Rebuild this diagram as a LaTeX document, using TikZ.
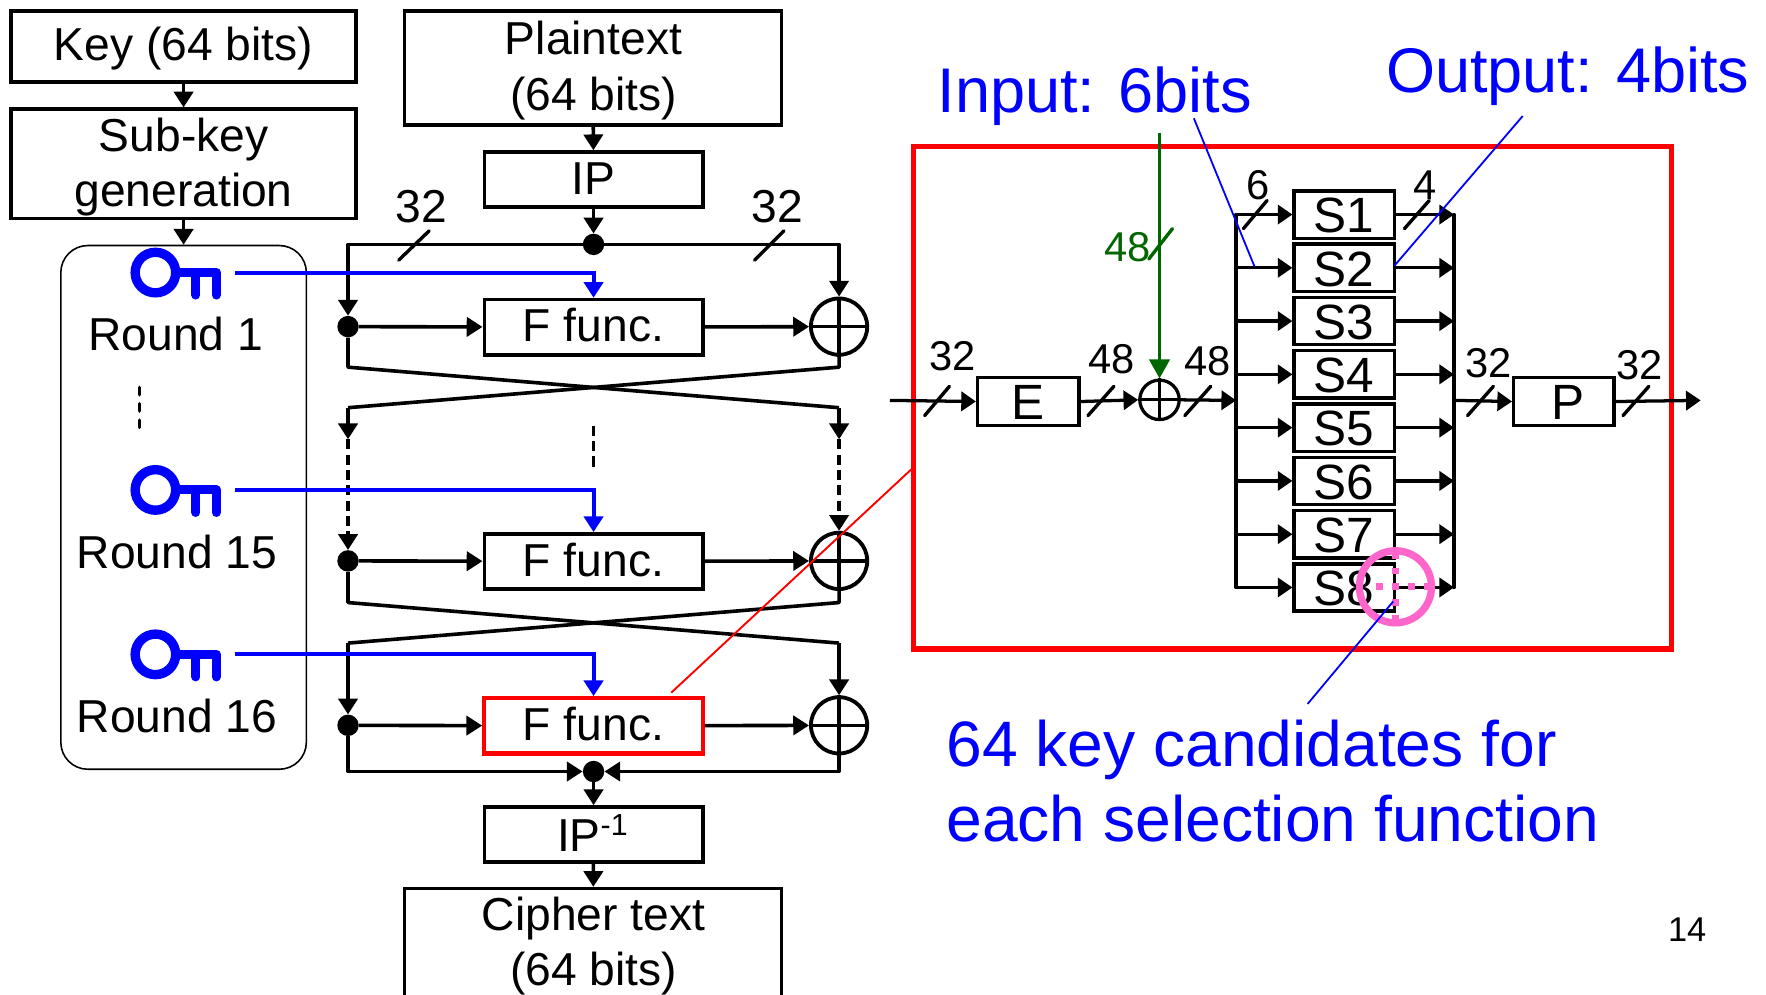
\documentclass[tikz,border=0pt]{standalone}
\usepackage{fontspec}
\setmainfont{Liberation Sans}
\usetikzlibrary{arrows.meta,calc}
\definecolor{pinkc}{HTML}{FF66CC}
\definecolor{greenc}{HTML}{006600}
\tikzset{
  x=1pt,y=-1pt,
  fmain/.style={font=\fontsize{41}{49}\selectfont},
  fbig/.style={font=\fontsize{44}{44}\selectfont},
  boxn/.style={draw=black,line width=3.2pt,fill=none,inner sep=0pt,fmain,align=center,line join=miter},
  sbox/.style={draw=black,line width=3pt,inner sep=0pt,minimum width=89pt,minimum height=42pt},
  ln/.style={line width=3.2pt,line join=round},
  arr/.style={ln,-{Triangle[length=14pt,width=17pt]}},
  parr/.style={line width=2.9pt,line join=round,-{Triangle[length=13pt,width=17pt]}},
  dotn/.style={circle,fill=black,inner sep=0pt,minimum size=19pt},
  xorn/.style={circle,draw=black,line width=3.4pt,inner sep=0pt,minimum size=50pt},
  pxor/.style={circle,draw=black,line width=2.9pt,inner sep=0pt,minimum size=35pt},
  tick/.style={line width=3pt,line cap=round},
  bl/.style={draw=blue,line width=3.6pt},
  blarr/.style={bl,-{Triangle[length=14pt,width=17pt]}},
  thinb/.style={draw=blue,line width=1.6pt},
  lab/.style={fmain,inner sep=0pt},
  nlab/.style={font=\fontsize{37}{37}\selectfont,inner sep=0pt},
  btext/.style={font=\fontsize{57}{67}\selectfont,text=blue,inner sep=0pt,align=left},
  hdtext/.style={font=\fontsize{56}{56}\selectfont,text=blue,inner sep=0pt},
  dsh/.style={dash pattern=on 9pt off 4.6pt},
  ringn/.style={circle,draw=blue,line width=8.3pt,inner sep=0pt,minimum size=36pt},
  txt/.style={lab,align=center},
}
\begin{document}
\begin{tikzpicture}
\useasboundingbox (0,0) rectangle (1568,883);
% left column boxes
\node[boxn,minimum width=306pt,minimum height=63pt] (key) at (163,41.5) {};
\node[txt] (keyt) at (163,43) {Key (64 bits)};
\node[boxn,minimum width=306pt,minimum height=97pt] (sub) at (163,145.5) {};
\node[txt] (subt) at (163,148) {Sub-key\\generation};
\node[draw=black,line width=1.4pt,rounded corners=24pt,minimum width=218pt,minimum height=465pt,inner sep=0pt] (rounds) at (163,450.5) {};
\draw[arr] (key) -- (sub);
\draw[arr] (sub) -- (rounds);
% center boxes
\node[boxn,minimum width=335pt,minimum height=101pt] (plain) at (526.5,60.5) {};
\node[txt,font=\fontsize{41}{50}\selectfont] (plaint) at (527,62.5) {Plaintext\\(64 bits)};
\node[boxn,minimum width=194pt,minimum height=49pt] (ip) at (527,159.5) {};
\node[txt] (ipt) at (527,158.5) {IP};
\node[dotn] (d0) at (527,217) {};
\node[boxn,minimum width=194pt,minimum height=49pt] (f1) at (527,290.5) {};
\node[boxn,minimum width=194pt,minimum height=49pt] (f2) at (527,498.5) {};
\node[boxn,draw=red,line width=3.8pt,minimum width=194pt,minimum height=49pt] (f3) at (527,644.5) {};
\node[txt] (f1t) at (527,289) {F func.};
\node[txt] (f2t) at (527,497) {F func.};
\node[txt] (f3t) at (527,643) {F func.};
\node[xorn] (x1) at (745,290) {};
\node[xorn] (x2) at (745,498) {};
\node[xorn] (x3) at (745,644) {};
\foreach \n in {x1,x2,x3}{
  \draw[ln,line width=3.2pt] (\n.north) -- (\n.south);
  \draw[ln,line width=3.2pt] (\n.west) -- (\n.east);
}
\node[dotn] (l1) at (309,290) {};
\node[dotn] (l2) at (309,498) {};
\node[dotn] (l3) at (309,644) {};
\node[dotn] (d9) at (527,685) {};
\node[boxn,minimum width=194pt,minimum height=49pt] (ipi) at (527,741) {};
\node[txt] (ipit) at (526,739.5) {IP\raisebox{.36em}{\fontsize{27}{27}\selectfont -1}};
\node[boxn,minimum width=335pt,minimum height=111pt] (ciph) at (526.5,844.5) {};
\node[lab,align=center] (ciphtext) at (527,840) {Cipher text\\(64 bits)};
% coordinates
\coordinate (tl) at (309,217);
\coordinate (tr) at (745,217);
\coordinate (a1) at (309,326);
\coordinate (b1) at (745,326);
\coordinate (a1e) at (745,362);
\coordinate (b1e) at (309,362);
\coordinate (a1t) at (745,390);
\coordinate (b1t) at (309,390);
\coordinate (a2) at (309,535);
\coordinate (b2) at (745,535);
\coordinate (a2e) at (745,571);
\coordinate (b2e) at (309,571);
\coordinate (bl) at (309,685);
\coordinate (br) at (745,685);
% connectors
\draw[arr] (plain) -- (ip);
\draw[arr] (ip) -- (d0);
\draw[arr] (d0.west) -- (tl) -- (l1.north);
\draw[arr] (d0.east) -- (tr) -- (x1.north);
\draw[arr] (l1) -- (f1);
\draw[arr] (f1) -- (x1);
\draw[ln] (l1.south) -- (a1) -- (a1e);
\draw[arr] (a1e) -- (a1t);
\draw[ln] (x1.south) -- (b1) -- (b1e);
\draw[arr] (b1e) -- (b1t);
\draw[arr,dsh] (b1t) -- (l2.north);
\draw[arr,dsh] (a1t) -- (x2.north);
\draw[arr] (l2) -- (f2);
\draw[arr] (f2) -- (x2);
\draw[ln] (l2.south) -- (a2) -- (a2e);
\draw[arr] (a2e) -- (x3.north);
\draw[ln] (x2.south) -- (b2) -- (b2e);
\draw[arr] (b2e) -- (l3.north);
\draw[arr] (l3) -- (f3);
\draw[arr] (f3) -- (x3);
\draw[arr] (l3.south) -- (bl) -- (d9.west);
\draw[arr] (x3.south) -- (br) -- (d9.east);
\draw[arr] (d9) -- (ipi);
\draw[arr] (ipi) -- (ciph);
\draw[ln,dsh] (527,378) -- (527,416);
\draw[ln,line cap=round,dash pattern=on 6.5pt off 8pt] (124,344) -- (124,382);
% ticks on main
\node[lab] (t32a) at (374,183) {32};
\node[lab] (t32b) at (690,183) {32};
\draw[tick] (354,231) -- (381,205);
\draw[tick] (670,231) -- (696,205);
% keys
\foreach \nm/\yy in {1/242,2/435,3/581}{
  \node[ringn] (ring\nm) at (138,\yy) {};
  \draw[blue,line width=8pt,line join=round,line cap=round] (ring\nm.east) -- (192,\yy) -- (192,\yy+20);
  \draw[blue,line width=8pt,line cap=round] (174,\yy) -- (174,\yy+20);
  \coordinate (kout\nm) at (209,\yy);
}
\draw[blarr] (kout1) -| (f1.north);
\draw[blarr] (kout2) -| (f2.north);
\draw[blarr] (kout3) -| (f3.north);
\node[lab] (r1) at (156,296.5) {Round 1};
\node[lab] (r15) at (157,490) {Round 15};
\node[lab] (r16) at (157,636) {Round 16};
% right panel
\node[draw=red,line width=5pt,inner sep=0pt,minimum width=673pt,minimum height=446pt] (panel) at (1147.5,353) {};
\coordinate (redend) at (596,615);
\draw[red,line width=1.7pt] (811,415) -- (redend);
\node[boxn,line width=3pt,minimum width=90pt,minimum height=43pt] (E) at (913,356.5) {};
\node[inner sep=0pt,fbig] (Et) at (913,357) {E};
\node[boxn,line width=3pt,minimum width=89pt,minimum height=43pt] (P) at (1388.5,356.5) {};
\node[inner sep=0pt,fbig] (Pt) at (1392,357) {P};
\node[pxor] (px) at (1029.5,355) {};
\draw[line width=2.7pt] (px.north) -- (px.south);
\draw[line width=2.7pt] (px.west) -- (px.east);
\foreach \i in {1,...,8}{
  \pgfmathsetmacro{\yy}{190.5+47.3*(\i-1)}
  \node[sbox] (S\i) at (1193.5,\yy) {};
  \node[inner sep=0pt,fbig] (St\i) at (1193.5,\yy+1) {S\i};
  \coordinate (li\i) at (1097.5,\yy);
  \coordinate (ri\i) at (1291,\yy);
  \draw[parr] (li\i) -- (S\i.west);
  \draw[parr] (S\i.east) -- (ri\i);
}
\draw[line width=2.9pt,line cap=round] (li1) -- (li8);
\draw[line width=2.9pt,line cap=round] (ri1) -- (ri8);
\coordinate (inL) at (790,355.5);
\coordinate (outR) at (1510,355.5);
\coordinate (busL) at (1097.5,355.5);
\coordinate (busR) at (1291,355.5);
\draw[parr] (inL) -- (E.west);
\draw[parr] (E.east) -- (px.west);
\draw[parr] (px.east) -- (busL);
\draw[parr] (busR) -- (P.west);
\draw[parr] (P.east) -- (outR);
% panel ticks
\draw[tick] (821,369) -- (843,343);
\draw[tick] (966,369) -- (989,343);
\draw[tick] (1052,369) -- (1075,343);
\draw[tick] (1303,369) -- (1326,343);
\draw[tick] (1441,369) -- (1464,343);
\draw[tick] (1104,203) -- (1125,178);
\draw[tick] (1247,203) -- (1269,178);
\node[nlab] (n32a) at (846,316) {32};
\node[nlab] (n48a) at (987,319) {48};
\node[nlab] (n48b) at (1072,321) {48};
\node[nlab] (n32b) at (1322,322) {32};
\node[nlab] (n32c) at (1456,324) {32};
\node[nlab] (n6) at (1117,164) {6};
\node[nlab] (n4) at (1265,164) {4};
% green
\coordinate (gtop) at (1029.5,118);
\draw[greenc,line width=3.1pt,-{Triangle[length=17pt,width=18pt]}] (gtop) -- (px.north);
\draw[greenc,tick] (1020,230) -- (1041,203);
\node[nlab,text=greenc] (g48) at (1001,219) {48};
% pink
\node[circle,draw=pinkc,line width=6.5pt,inner sep=0pt,minimum size=64pt] (pk) at (1239,521) {};
\draw[pinkc,line width=6pt,dash pattern=on 6pt off 8pt] (1239,490) -- (1239,552);
\draw[pinkc,line width=6pt,dash pattern=on 6pt off 8pt] (1222,521) -- (1271,521);
% blue labels
\node[hdtext] (inp) at (972,85) {Input: 6bits};
\node[hdtext] (outp) at (1392,68) {Output: 4bits};
\node[btext,anchor=west] (cand) at (840,693.5) {64 key candidates for\\each selection function};
\coordinate (inlend) at (1114,237);
\coordinate (outlend) at (1238,236);
\coordinate (candend) at (1237,534);
\draw[thinb] (1060,105) -- (inlend);
\draw[thinb] (1352,103) -- (outlend);
\draw[thinb] (1161,625) -- (candend);
\node[inner sep=0pt,font=\fontsize{30.5}{30.5}\selectfont] (pg) at (1498,825) {14};
\end{tikzpicture}
\end{document}
